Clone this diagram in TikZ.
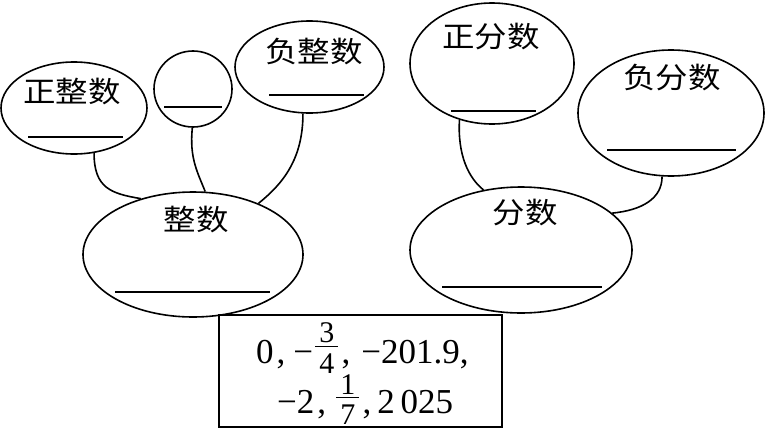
\documentclass[tikz,border=0pt]{standalone}
\usepackage{amsmath}
\usepackage{fontspec}
\setmainfont{Liberation Serif}
\newfontfamily\cjk[FakeStretch=1.12]{Noto Sans CJK SC}
\usetikzlibrary{shapes.geometric}
\newcommand\myfr[3]{\raisebox{#3}{$\genfrac{}{}{1.2pt}{1}{\hbox{\fontsize{30}{30}\selectfont\hspace{4pt}#1\hspace{4pt}}}{\hbox{\fontsize{30}{30}\selectfont\rule{0pt}{25pt}#2}}$}}
\begin{document}
\begin{tikzpicture}[x=1pt,y=-1pt,
  ell/.style={draw, ellipse, line width=1.6pt, inner sep=0pt},
  conn/.style={line width=1.6pt},
  blank/.style={line width=1.6pt},
  cjklabel/.style={anchor=base, inner sep=0pt, font=\cjk\fontsize{29}{32}\selectfont},
  numline/.style={anchor=base west, inner sep=0pt, font=\fontsize{35}{38}\selectfont}]
\useasboundingbox (0,0) rectangle (767,431);
% ellipses
\node[ell, minimum width=146pt, minimum height=92pt]  (zzs) at (74,108) {};
\node[ell, minimum width=78pt,  minimum height=76pt]  (ling) at (193,89) {};
\node[ell, minimum width=149pt, minimum height=92pt]  (fzs) at (309.5,67) {};
\node[ell, minimum width=164pt, minimum height=121pt] (zfs) at (492,63.5) {};
\node[ell, minimum width=186pt, minimum height=126pt] (ffs) at (671,113) {};
\node[ell, minimum width=220pt, minimum height=125pt] (zs) at (193,254.5) {};
\node[ell, minimum width=222pt, minimum height=126pt] (fs) at (521,250) {};
% labels
\node[cjklabel] (t1) at (72,102) {正整数};
\node[cjklabel] (t3) at (314,62) {负整数};
\node[cjklabel] (t4) at (491,47) {正分数};
\node[cjklabel] (t5) at (672,88) {负分数};
\node[cjklabel] (t6) at (196,230) {整数};
\node[cjklabel] (t7) at (525,223) {分数};
% blanks
\draw[blank] (28,137) -- (123,137);
\draw[blank] (164,107) -- (222,107);
\draw[blank] (269,95) -- (364,95);
\draw[blank] (451,111) -- (536,111);
\draw[blank] (607,150) -- (736,150);
\draw[blank] (115,292) -- (270,292);
\draw[blank] (442,287) -- (602,287);
% connectors
\draw[conn] (zzs.-66) .. controls +(0,35) and +(-30,-5) .. (zs.133);
\draw[conn] (ling.-91) .. controls +(-3,30) and +(-8,-20) .. (zs.79);
\draw[conn] (fzs.-98) .. controls +(0,45) and +(25,-20) .. (zs.38);
\draw[conn] (zfs.-120) .. controls +(-2,35) and +(-15,-12) .. (fs.122);
\draw[conn] (ffs.-98) .. controls +(0,22) and +(30,-3) .. (fs.22);
% box
\draw[line width=1.6pt] (219,315) rectangle (502,427);
\node[numline] (n1) at (256,363) {0\hspace{3pt},\hspace{8pt}−\hspace{1pt}\myfr{3}{4}{10.25pt}\hspace{2pt},\hspace{11pt}−201.9,};
\node[numline] (n2) at (277,413) {−2\hspace{3pt},\hspace{9pt}\myfr{1}{7}{9pt}\hspace{2pt},\hspace{6pt}2\,025};
\end{tikzpicture}
\end{document}
